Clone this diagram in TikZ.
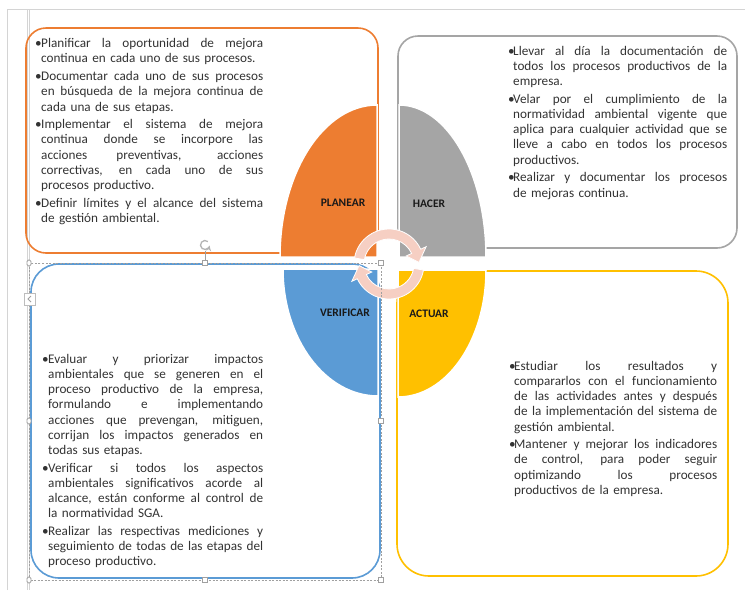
\documentclass[tikz,border=0pt]{standalone}
\usepackage{fontspec}
\setmainfont{Carlito}
\definecolor{cOr}{HTML}{ED7D31}
\definecolor{cGr}{HTML}{A5A5A5}
\definecolor{cBl}{HTML}{5B9BD5}
\definecolor{cYe}{HTML}{FFC000}
\definecolor{cRing}{HTML}{F6CFC3}
\definecolor{cTxt}{HTML}{333333}
\definecolor{cPage}{HTML}{D4D4D4}
\definecolor{cSel}{HTML}{A0A0A0}
\newlength\tw
\newlength\bi
\newcommand\bl[1]{\makebox[\bi][l]{\textbullet}\makebox[\tw][s]{\spaceskip=0pt\xspaceskip=0pt #1}}
\newcommand\jl[1]{\hspace*{\bi}\makebox[\tw][s]{\spaceskip=0pt\xspaceskip=0pt #1}}
\newcommand\el[1]{\hspace*{\bi}#1}
\begin{document}
\begin{tikzpicture}[x=1pt,y=1pt,
  setw/.code={\global\tw=#1pt},
  setb/.code={\global\bi=#1pt},
  boxline/.style={line width=1.6pt, rounded corners=#1},
  petal/.style={draw=white, line width=1.5pt},
  lab/.style={font=\fontsize{11.5}{13}\selectfont\bfseries, text=black!90, inner sep=0pt},
  txt/.style={font=\fontsize{13.2}{15.2}\selectfont, text=cTxt, inner sep=0pt, anchor=north west, align=left, text width=240pt},
  ring/.style={fill=cRing, draw=white, line width=0.8pt},
  handle/.style={fill=white, draw=cSel, line width=0.8pt}]
\useasboundingbox (0,0) rectangle (745,-590);
\fill[white] (0,0) rectangle (745,-590);
% page frame
\draw[cPage, line width=1pt] (7,-590) -- (7,-9) -- (745,-9);
\draw[cPage, line width=0.8pt] (27,-9) -- (27,-590);
\draw[cPage, line width=0.8pt] (29.5,-9) -- (29.5,-590);
% boxes
\draw[cOr, boxline=20] (26,-28) rectangle (378,-253);
\draw[cGr, boxline=20] (398,-36) rectangle (737,-248);
\draw[cBl, boxline=28] (31,-264) rectangle (380,-578);
\draw[cYe, boxline=32] (397,-271) rectangle (728,-576);
% petals
\fill[cOr, petal] (377,-257) -- (377,-105) arc[start angle=90, end angle=180, x radius=97, y radius=152] -- cycle;
\fill[cGr, petal] (399,-257) -- (399,-105) arc[start angle=90, end angle=0, x radius=87, y radius=152] -- cycle;
\fill[cBl, petal] (378,-269) -- (378,-396) arc[start angle=270, end angle=180, x radius=95, y radius=127] -- cycle;
\fill[cYe, petal] (398,-270) -- (398,-397) arc[start angle=270, end angle=360, x radius=88, y radius=127] -- cycle;
% ring arrows
\coordinate (rc) at (389,-264);
\filldraw[ring] ([shift={(rc)}]170:35) arc[start angle=170, end angle=25, radius=35]
  -- ([shift={(rc)}]25:41) -- ([shift={(rc)}]3:30) -- ([shift={(rc)}]25:19)
  -- ([shift={(rc)}]25:25) arc[start angle=25, end angle=170, radius=25] -- cycle;
\filldraw[ring] ([shift={(rc)}]-10:35) arc[start angle=-10, end angle=-155, radius=35]
  -- ([shift={(rc)}]-155:41) -- ([shift={(rc)}]-177:30) -- ([shift={(rc)}]-155:19)
  -- ([shift={(rc)}]-155:25) arc[start angle=-155, end angle=-10, radius=25] -- cycle;
% labels
\node[lab] (lplan) at (343,-203) {PLANEAR};
\node[lab] (lhac) at (429,-204) {HACER};
\node[lab] (lver) at (345,-313) {VERIFICAR};
\node[lab] (lact) at (429,-314) {ACTUAR};
% selection frame
\draw[cSel, line width=0.7pt, dash pattern=on 2pt off 1.5pt] (29,-263) rectangle (381,-580);
\draw[cSel, line width=0.8pt] (205,-263) -- (205,-251);
\draw[cSel!80, line width=1.3pt, -stealth] (205,-245) ++(50:4.5) arc[start angle=50, end angle=350, radius=4.5];
\foreach \p in {(205,-263),(381,-263),(381,-421),(205,-580),(381,-580)}
  \filldraw[handle] \p ++(-2.6,-2.6) rectangle ++(5.2,5.2);
\foreach \p in {(29,-263),(29,-421),(29,-580)}
  \filldraw[handle, rounded corners=1.5pt] \p ++(-2,-3) rectangle ++(4,6);
\filldraw[fill=white, draw=cSel!70, line width=0.7pt] (24,-293) rectangle (35,-305);
\draw[cSel, line width=0.9pt] (31,-296) -- (28,-299) -- (31,-302);
% texts
\node[txt, setw=222, setb=6] (tplan) at (35,-36.9) {\noindent\strut\bl{Planificar la oportunidad de mejora}\\
\el{continua en cada uno de sus procesos.}\\[2.5pt]
\bl{Documentar cada uno de sus procesos}\\
\jl{en búsqueda de la mejora continua de}\\
\el{cada una de sus etapas.}\\[2.5pt]
\bl{Implementar el sistema de mejora}\\
\jl{continua donde se incorpore las}\\
\jl{acciones preventivas, acciones}\\
\jl{correctivas, en cada uno de sus}\\
\el{procesos productivo.}\\[2.5pt]
\bl{Definir límites y el alcance del sistema}\\
\el{de gestión ambiental.}};
\node[txt, setw=214, setb=5] (thac) at (508,-44.4) {\noindent\strut\bl{Llevar al día la documentación de}\\
\jl{todos los procesos productivos de la}\\
\el{empresa.}\\[2.5pt]
\bl{Velar por el cumplimiento de la}\\
\jl{normatividad ambiental vigente que}\\
\jl{aplica para cualquier actividad que se}\\
\jl{lleve a cabo en todos los procesos}\\
\el{productivos.}\\[2.5pt]
\bl{Realizar y documentar los procesos}\\
\el{de mejoras continua.}};
\node[txt, setw=215, setb=6] (tver) at (42,-352.4) {\noindent\strut\bl{Evaluar y priorizar impactos}\\
\jl{ambientales que se generen en el}\\
\jl{proceso productivo de la empresa,}\\
\jl{formulando e implementando}\\
\jl{acciones que prevengan, mitiguen,}\\
\jl{corrijan los impactos generados en}\\
\el{todas sus etapas.}\\[2.5pt]
\bl{Verificar si todos los aspectos}\\
\jl{ambientales significativos acorde al}\\
\jl{alcance, están conforme al control de}\\
\el{la normatividad SGA.}\\[2.5pt]
\bl{Realizar las respectivas mediciones y}\\
\jl{seguimiento de todas de las etapas del}\\
\el{proceso productivo.}};
\node[txt, setw=203, setb=5] (tact) at (509,-359.4) {\noindent\strut\bl{Estudiar los resultados y}\\
\jl{compararlos con el funcionamiento}\\
\jl{de las actividades antes y después}\\
\jl{de la implementación del sistema de}\\
\el{gestión ambiental.}\\[2.5pt]
\bl{Mantener y mejorar los indicadores}\\
\jl{de control, para poder seguir}\\
\jl{optimizando los procesos}\\
\el{productivos de la empresa.}};
\end{tikzpicture}
\end{document}
